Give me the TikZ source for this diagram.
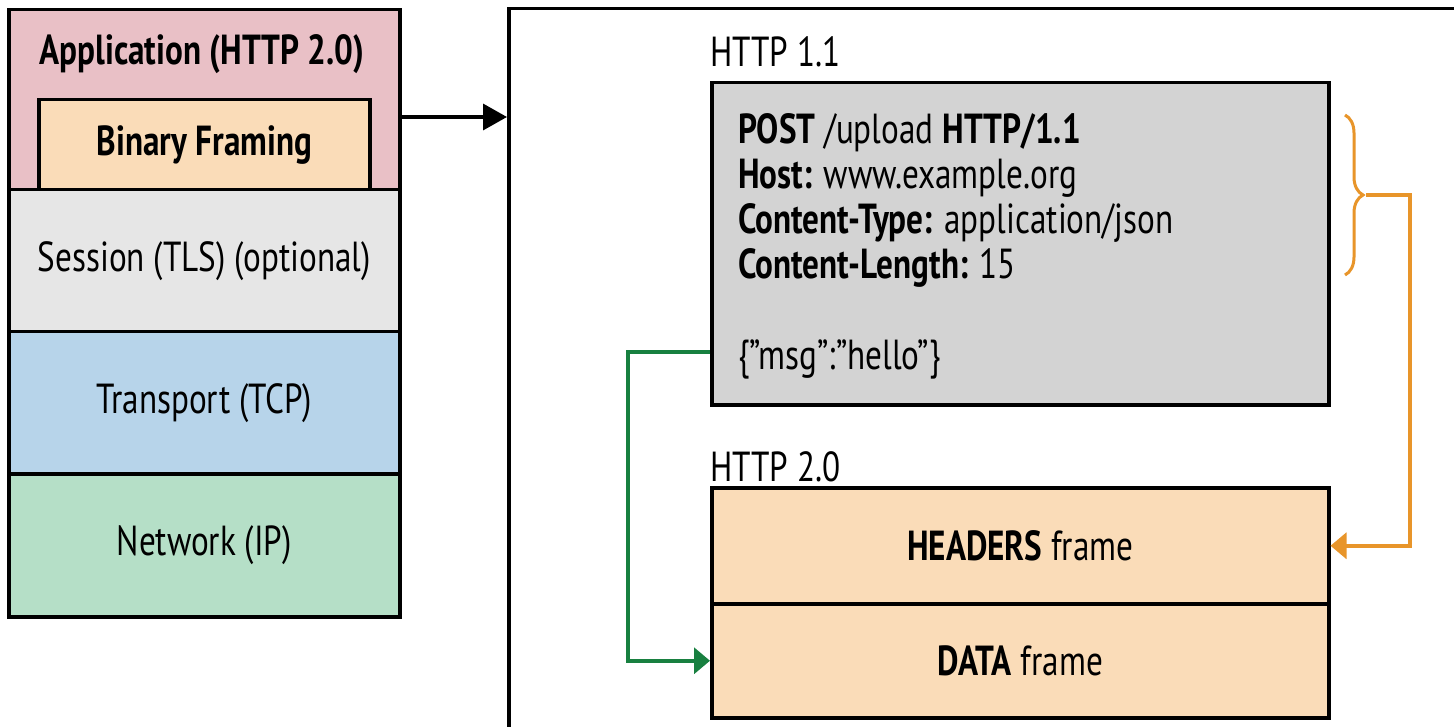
\documentclass[tikz,border=0pt]{standalone}
\usepackage{fontspec}
\setmainfont{PT Sans}[FakeStretch=0.79]
\usetikzlibrary{arrows.meta,decorations.pathreplacing}
\definecolor{appc}{HTML}{E9C0C6}
\definecolor{framec}{HTML}{FADCB8}
\definecolor{sessc}{HTML}{E6E6E6}
\definecolor{tranc}{HTML}{B7D4EA}
\definecolor{netc}{HTML}{B5DFC7}
\definecolor{grayc}{HTML}{D3D3D3}
\definecolor{orc}{HTML}{E8952A}
\definecolor{grc}{HTML}{188040}
\tikzset{
  layer/.style={draw=black, line width=3.5pt, anchor=north west, inner sep=0pt},
  txt/.style={font=\fontsize{42}{45}\selectfont, inner sep=0pt},
  btxt/.style={font=\fontsize{42}{45}\selectfont\bfseries, inner sep=0pt},
  conn/.style={line width=3.5pt},
}
\begin{document}
\begin{tikzpicture}[x=1pt,y=-1pt]
\useasboundingbox (0,0) rectangle (1454,727);
\clip (0,0) rectangle (1454,727);
\fill[white] (0,0) rectangle (1454,727);
% outer frame (clipped)
\node[layer, fill=white, minimum width=1000pt, minimum height=800pt] (outer) at (507,7) {};
% protocol stack
\node[layer, fill=appc, minimum width=391pt, minimum height=180pt] (app) at (7,8) {};
\node[btxt] (applbl) at (202,54) {Application (HTTP 2.0)};
\node[layer, fill=framec, minimum width=331pt, minimum height=90pt] (bf) at (37,98) {};
\node[btxt] (bflbl) at (bf.center) {Binary Framing};
\node[layer, fill=sessc, minimum width=391pt, minimum height=142pt, txt] (sess) at (7,188) {Session (TLS) (optional)};
\node[layer, fill=tranc, minimum width=391pt, minimum height=142pt, txt] (tran) at (7,330) {Transport (TCP)};
\node[layer, fill=netc, minimum width=391pt, minimum height=143pt, txt] (net) at (7,472) {Network (IP)};
\draw[conn, -{Triangle[length=24pt,width=26pt]}] (app.east |- 0,117) -- (outer.west |- 0,117);
% HTTP 1.1
\node[txt, anchor=west] (h11) at (710,52) {HTTP 1.1};
\node[layer, fill=grayc, minimum width=617pt, minimum height=322pt] (gray) at (710,81) {};
\node[txt, anchor=base west] (l1) at (738,144) {\textbf{POST} /upload \textbf{HTTP/1.1}};
\node[txt, anchor=base west] (l2) at (738,189) {\textbf{Host:} www.example.org};
\node[txt, anchor=base west] (l3) at (738,234) {\textbf{Content-Type:} application/json};
\node[txt, anchor=base west] (l4) at (738,279) {\textbf{Content-Length:} 15};
\node[txt, anchor=base west] (msg) at (738,369) {\{”msg”:”hello”\}};
% HTTP 2.0
\node[txt, anchor=west] (h20) at (710,467) {HTTP 2.0};
\node[layer, fill=framec, minimum width=617pt, minimum height=116pt, txt] (hdr) at (710,486) {\textbf{HEADERS} frame};
\node[layer, fill=framec, minimum width=617pt, minimum height=114pt, txt] (data) at (710,602) {\textbf{DATA} frame};
% brace and connectors
\draw[orc, line width=3pt, decorate, decoration={brace, amplitude=18pt}] (1345,115) -- (1345,275);
\coordinate (btip) at (1366,195);
\draw[conn, orc, -{Triangle[length=16pt,width=26pt]}] (btip) -- (1410,195) |- (hdr.east);
\draw[conn, grc, -{Triangle[length=16pt,width=26pt]}] (gray.west |- 0,352) -- (628,352) |- (data.west);
\end{tikzpicture}
\end{document}
